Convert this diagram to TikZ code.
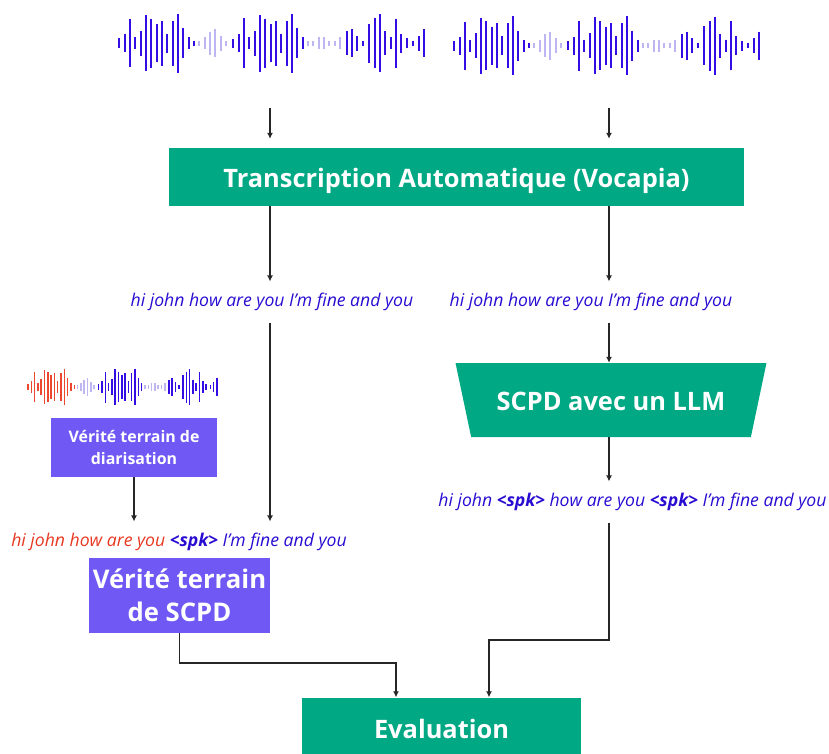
\documentclass[tikz,border=0pt]{standalone}
\usepackage{fontspec}
\setmainfont{Open Sans}
\usetikzlibrary{arrows.meta,shapes.geometric,positioning}

\definecolor{boxgreen}{RGB}{0,168,132}
\definecolor{boxpurple}{RGB}{112,88,245}
\definecolor{txtblue}{RGB}{40,12,210}
\definecolor{txtred}{RGB}{232,56,34}
\definecolor{wavedark}{RGB}{52,12,228}
\definecolor{wavelight}{RGB}{190,182,240}
\definecolor{wavered}{RGB}{236,72,48}

% x/height/segment of each bar of the sound wave
\newcommand{\wavedata}{28/10/1,44/18/1,60/48/1,76/12/1,92/25/1,108/56/1,124/49/1,140/38/1,156/45/1,172/19/1,188/45/1,204/59/1,220/30/1,236/12/1,252/5/1,
268/5/3,284/12/3,300/23/3,316/28/3,332/15/3,348/5/3,
370/9/2,386/18/2,402/50/2,418/12/2,434/25/2,450/57/2,466/49/2,482/38/2,498/45/2,514/19/2,530/45/2,546/59/2,562/30/2,578/12/2,
594/5/3,610/5/3,626/12/3,642/12/3,658/5/3,674/5/3,690/12/3,
710/24/2,726/28/2,742/15/2,758/5/2,778/39/2,794/50/2,810/58/2,826/24/2,842/12/2,858/49/2,874/19/2,890/10/2,910/5/2,926/15/2,942/28/2}

\begin{document}
\begin{tikzpicture}[x=1pt,y=-1pt,
	greenbox/.style={fill=boxgreen,text=white,inner sep=0pt,text height=21pt,text depth=0pt,
		font=\bfseries\fontsize{25.4}{30}\selectfont},
	truthbox/.style={fill=boxpurple,text=white,inner sep=0pt,align=center},
	phrase/.style={text=txtblue,inner xsep=2pt,inner ysep=11.5pt,
		font=\itshape\fontsize{17.6}{21}\selectfont},
	conn/.style={draw=black!85,line width=1.3pt,-{Latex[length=6pt,width=6pt]}},
	bar/.style={line width=2.3pt},
	seg1/.style={draw=wavedark},
	seg2/.style={draw=wavedark},
	seg3/.style={draw=wavelight}]
\useasboundingbox (0,0) rectangle (829,753);

% sound waves
\foreach \s/\t in {110/43,445/45.5}
	{\begin{scope}[shift={(\s,\t)}]
	\foreach \x/\h/\c in \wavedata
		{\draw[bar,seg\c] (\x/3,-\h/2) -- (\x/3,\h/2);}
	\end{scope}}

\begin{scope}[shift={(22.2,387)},scale=.62,bar/.style={line width=1.5pt},seg1/.style={draw=wavered}]
\foreach \x/\h/\c in \wavedata
	{\draw[bar,seg\c] (\x/3,-\h/2) -- (\x/3,\h/2);}
\end{scope}

\coordinate (w1) at (270,108);
\coordinate (w2) at (609,108);

% boxes and texts
\node[greenbox,minimum width=575pt,minimum height=58pt] (asr) at (456.5,177) {Transcription Automatique (Vocapia)};
\node[phrase] (hypL) at (272,302) {hi john how are you I'm fine and you};
\node[phrase] (hypR) at (591,302) {hi john how are you I'm fine and you};
\node[greenbox,trapezium,shape border rotate=180,trapezium stretches,
	trapezium left angle=58.7,trapezium right angle=58.7,
	minimum width=312pt,minimum height=74pt] (llm) at (611,400) {SCPD avec un LLM};
\node[phrase] (outR) at (632.5,502) {hi john \textbf{<spk>} how are you \textbf{<spk>} I'm fine and you};

\node[truthbox,minimum width=166pt,minimum height=59pt,
	font=\bfseries\fontsize{15.9}{22}\selectfont] (diar) at (134,447.5) {Vérité terrain de\\diarisation};
\node[phrase] (refL) at (179,542) {\textcolor{txtred}{hi john how are you} \textbf{<spk>} I'm fine and you};
\node[truthbox,minimum width=181pt,minimum height=75pt,
	font=\bfseries\fontsize{25.7}{33}\selectfont] (gt) at (179.5,595.5) {Vérité terrain\\de SCPD};

\node[greenbox,minimum width=279pt,minimum height=60pt] (eval) at (441.5,727.5) {Evaluation};

\coordinate (jR) at (489,640);
\coordinate (jL) at (396,663);

% connectors
\draw[conn,shorten >=9pt] (w1) -- (w1 |- asr.north);
\draw[conn,shorten >=9pt] (w2) -- (w2 |- asr.north);
\draw[conn] (asr.south -| w1) -- (hypL.north -| w1);
\draw[conn] (asr.south -| w2) -- (hypR.north -| w2);
\draw[conn] (hypL.south -| w1) -- (refL.north -| w1);
\draw[conn] (hypR.south -| w2) -- (llm.north -| w2);
\draw[conn] (llm.south -| w2) -- (outR.north -| w2);
\draw[conn] (diar.south) -- (refL.north -| diar.south);
\draw[conn] (outR.south -| w2) |- (jR) -- (jR |- eval.north);
\draw[conn] (gt.south) |- (jL) -- (jL |- eval.north);
\end{tikzpicture}
\end{document}
